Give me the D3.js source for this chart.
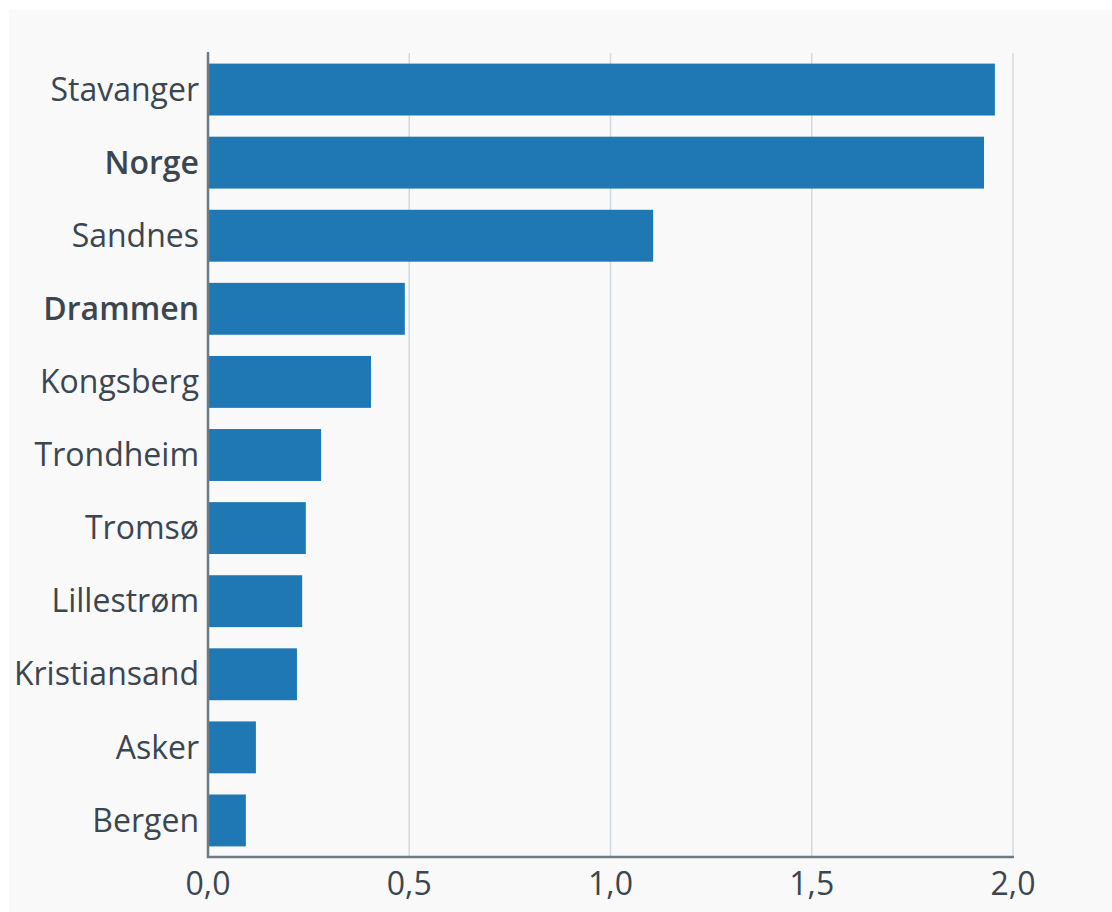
<!DOCTYPE html>
<html>
<head>
<meta charset="utf-8">
<script src="https://cdn.jsdelivr.net/npm/d3@7"></script>
<style>
  body { margin: 0; background: #ffffff; }
  svg { display: block; font-family: "Open Sans", sans-serif; }
</style>
</head>
<body>
<div id="main"></div>
<script>
// data
var cities = ["Stavanger", "Norge", "Sandnes", "Drammen", "Kongsberg", "Trondheim",
              "Tromsø", "Lillestrøm", "Kristiansand", "Asker", "Bergen"];
var values = [1.955, 1.928, 1.106, 0.489, 0.405, 0.281, 0.243, 0.234, 0.221, 0.119, 0.094];
var boldCities = ["Norge", "Drammen"];
var xTicks = [0, 0.5, 1.0, 1.5, 2.0];

var W = 1112, H = 912;
var margin = {left: 208, right: 99, top: 53, bottom: 55};

var svg = d3.select("#main").append("svg")
    .attr("width", W)
    .attr("height", H);

// light panel
svg.append("rect")
    .attr("x", 9).attr("y", 10)
    .attr("width", W - 9).attr("height", H - 10)
    .attr("fill", "#f9f9f9");

var x = d3.scaleLinear()
    .domain([0, 2])
    .range([margin.left, W - margin.right]);

var y = d3.scaleBand()
    .domain(cities)
    .range([margin.top, H - margin.bottom])
    .paddingInner(0.29)
    .paddingOuter(0.145);

// grid lines
svg.append("g")
    .selectAll("line")
    .data(xTicks.slice(1))
    .enter().append("line")
      .attr("x1", function(d) { return x(d); })
      .attr("x2", function(d) { return x(d); })
      .attr("y1", margin.top)
      .attr("y2", H - margin.bottom)
      .attr("stroke", "#d3dadf")
      .attr("stroke-width", 1.5);

// bars
svg.append("g")
    .selectAll("rect")
    .data(cities)
    .enter().append("rect")
      .attr("x", x(0) + 1)
      .attr("y", function(d) { return y(d); })
      .attr("width", function(d, i) { return x(values[i]) - x(0) - 1; })
      .attr("height", y.bandwidth())
      .attr("fill", "#1f77b4");

// axes lines
svg.append("line")
    .attr("x1", x(0)).attr("x2", x(0))
    .attr("y1", margin.top - 1).attr("y2", H - margin.bottom + 1)
    .attr("stroke", "#6b7c86").attr("stroke-width", 2.5);
svg.append("line")
    .attr("x1", x(0) - 1).attr("x2", x(2) + 1)
    .attr("y1", H - margin.bottom).attr("y2", H - margin.bottom)
    .attr("stroke", "#6b7c86").attr("stroke-width", 2.5);

// y labels
svg.append("g")
    .selectAll("text")
    .data(cities)
    .enter().append("text")
      .attr("x", x(0) - 9)
      .attr("y", function(d) { return y(d) + y.bandwidth() / 2; })
      .attr("dy", "0.35em")
      .attr("text-anchor", "end")
      .attr("font-size", 32)
      .attr("font-weight", function(d) { return boldCities.indexOf(d) >= 0 ? 600 : 400; })
      .attr("fill", "#3b4650")
      .text(function(d) { return d; });

// x tick labels
var fmt = function(d) { return d3.format(".1f")(d).replace(".", ","); };
svg.append("g")
    .selectAll("text")
    .data(xTicks)
    .enter().append("text")
      .attr("x", function(d) { return x(d); })
      .attr("y", H - margin.bottom + 38)
      .attr("text-anchor", "middle")
      .attr("font-size", 32)
      .attr("fill", "#3b4650")
      .text(fmt);
</script>
</body>
</html>
